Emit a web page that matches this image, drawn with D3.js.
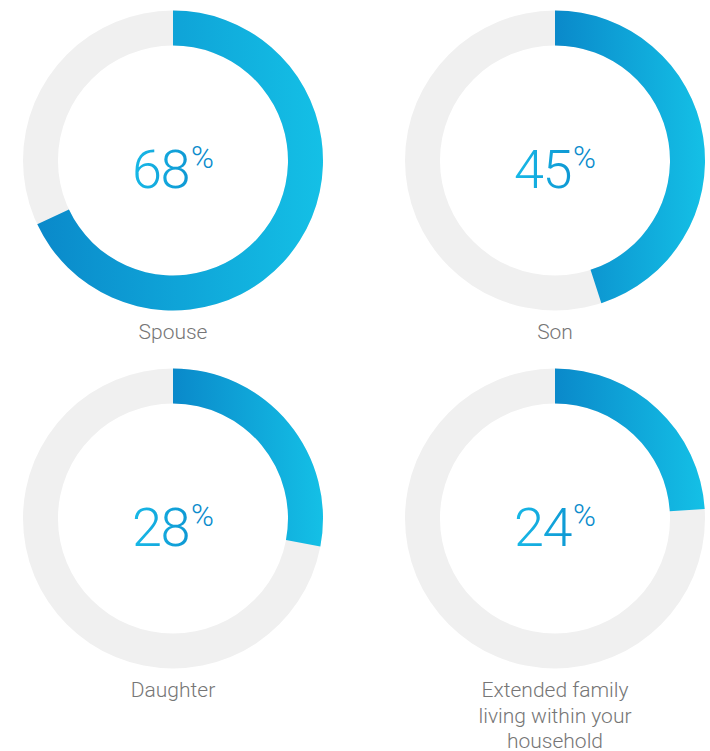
<!DOCTYPE html>
<html>
<head>
<meta charset="utf-8">
<script src="https://cdn.jsdelivr.net/npm/d3@7"></script>
<style>
  html, body { margin: 0; padding: 0; background: #fff; }
</style>
</head>
<body>
<div id="chart"></div>
<script>
// chart data
var categories = ["Spouse", "Son", "Daughter", "Extended family living within your household"];
var labelLines = [["Spouse"], ["Son"], ["Daughter"], ["Extended family", "living within your", "household"]];
var percents = [68, 45, 28, 24];

var svgWidth = 710;
var svgHeight = 751;

var outerR = 150;
var innerR = 115;

// grid of donuts: 2 columns, 2 rows
var colX = d3.scalePoint().domain([0, 1]).range([173, 555]);
var rowY = d3.scalePoint().domain([0, 1]).range([160.5, 518.5]);

var svg = d3.select("#chart").append("svg")
  .attr("width", svgWidth)
  .attr("height", svgHeight);

var defs = svg.append("defs");

// arc gradient: dark blue on the left, cyan on the right
var arcGrad = defs.append("linearGradient")
  .attr("id", "arcGrad")
  .attr("x1", "0").attr("y1", "0").attr("x2", "1").attr("y2", "0");
arcGrad.append("stop").attr("offset", "0%").attr("stop-color", "#0a89ca");
arcGrad.append("stop").attr("offset", "100%").attr("stop-color", "#14c0e6");

// text gradient goes the other way
var textGrad = defs.append("linearGradient")
  .attr("id", "textGrad")
  .attr("x1", "0").attr("y1", "0").attr("x2", "1").attr("y2", "0");
textGrad.append("stop").attr("offset", "0%").attr("stop-color", "#18b9e7");
textGrad.append("stop").attr("offset", "100%").attr("stop-color", "#0a8acb");

var angle = d3.scaleLinear().domain([0, 100]).range([0, 2 * Math.PI]);

var arc = d3.arc()
  .innerRadius(innerR)
  .outerRadius(outerR);

var groups = svg.selectAll("g.donut")
  .data(percents)
  .enter()
  .append("g")
  .attr("class", "donut")
  .attr("transform", (d, i) => `translate(${colX(i % 2)}, ${rowY(Math.floor(i / 2))})`);

// grey track
groups.append("path")
  .attr("d", arc({ startAngle: 0, endAngle: 2 * Math.PI }))
  .attr("fill", "#f0f0f0");

// value arc
groups.append("path")
  .attr("d", d => arc({ startAngle: 0, endAngle: angle(d) }))
  .attr("fill", "url(#arcGrad)");

// big percentage
var pct = groups.append("text")
  .attr("text-anchor", "middle")
  .attr("y", 27)
  .attr("font-family", "Roboto, 'Liberation Sans', sans-serif")
  .attr("font-weight", 300)
  .attr("fill", "url(#textGrad)");

pct.append("tspan")
  .attr("font-size", 54)
  .attr("letter-spacing", -1.5)
  .text(d => d);

pct.append("tspan")
  .attr("font-size", 31)
  .attr("dx", 2)
  .attr("dy", -20)
  .attr("fill", "#0a8bcc")
  .text("%");

// labels under each donut
groups.append("text")
  .attr("text-anchor", "middle")
  .attr("font-family", "Roboto, 'Liberation Sans', sans-serif")
  .attr("font-weight", 300)
  .attr("font-size", 21)
  .attr("fill", "#767676")
  .selectAll("tspan")
  .data((d, i) => labelLines[i])
  .enter()
  .append("tspan")
  .attr("x", 0)
  .attr("y", (d, j) => 178.5 + j * 25.5)
  .text(d => d);
</script>
</body>
</html>
